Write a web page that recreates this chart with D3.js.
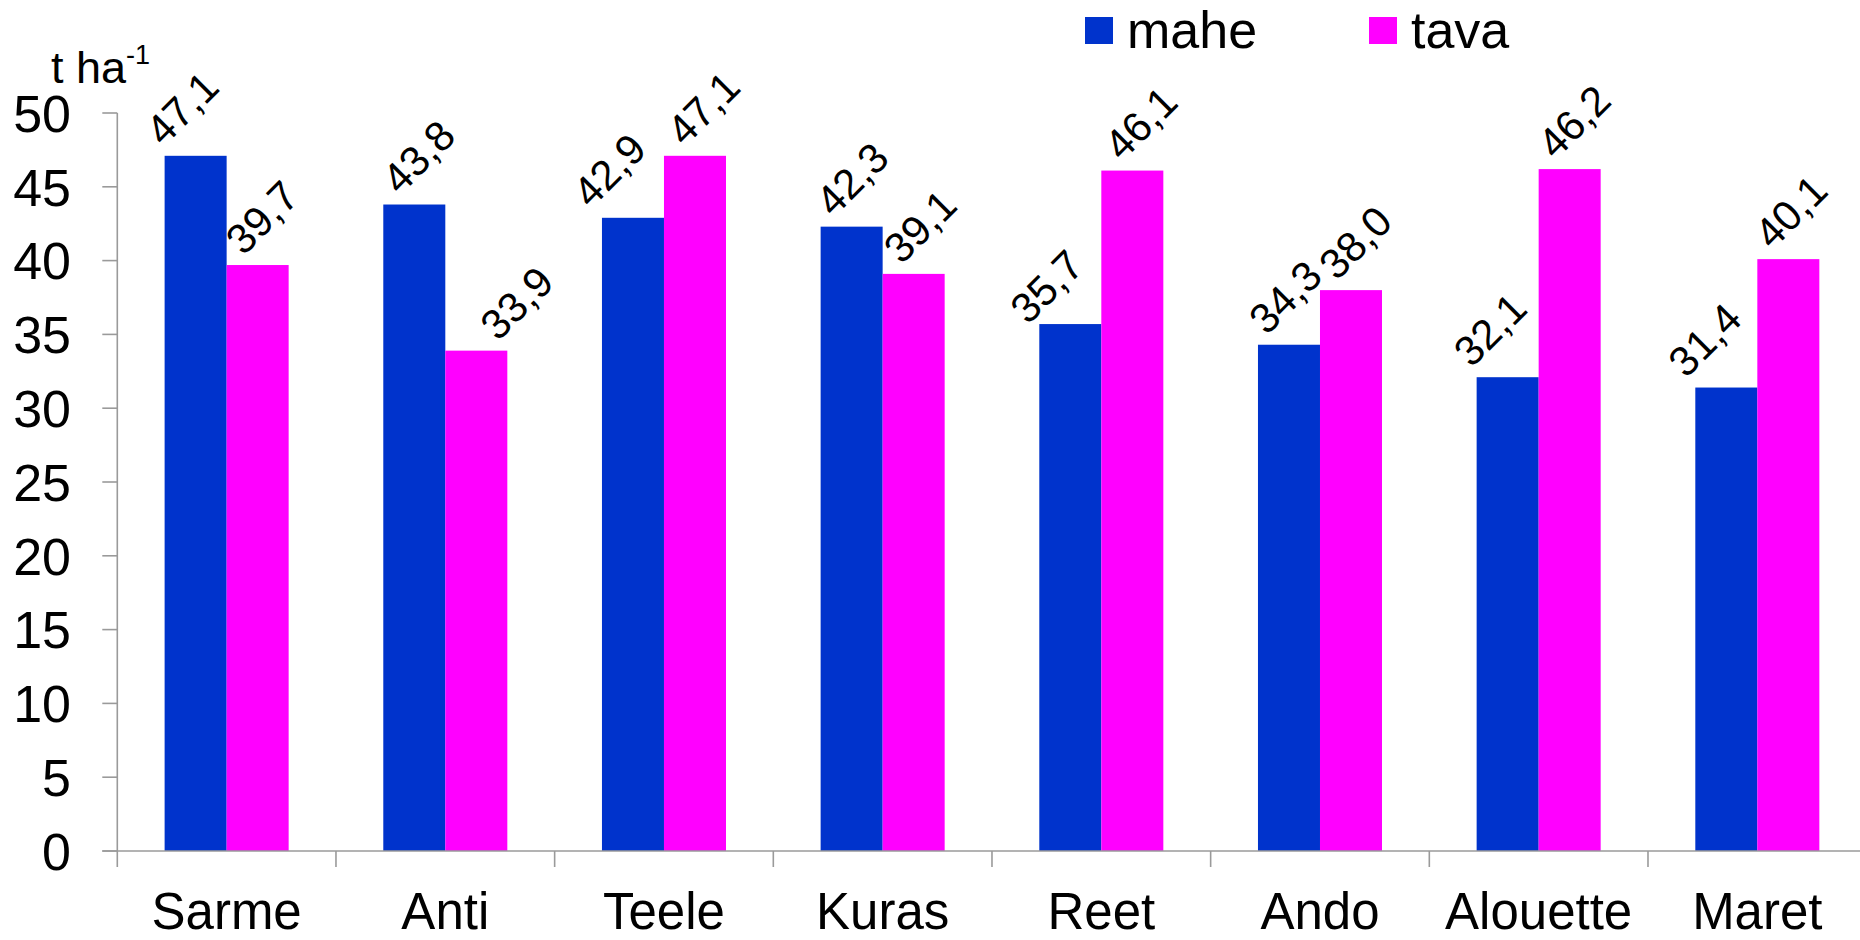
<!DOCTYPE html>
<html>
<head>
<meta charset="utf-8">
<script src="https://cdn.jsdelivr.net/npm/d3@7"></script>
<style>
  html, body { margin: 0; padding: 0; background: #fff; }
  svg { display: block; }
  text { font-family: "Liberation Sans", Arial, sans-serif; fill: #000; }
</style>
</head>
<body>
<svg id="chart" width="1860" height="940"></svg>
<script>
// ---- data ----
const categories = ["Sarme", "Anti", "Teele", "Kuras", "Reet", "Ando", "Alouette", "Maret"];
const seriesNames = ["mahe", "tava"];
const maheValues = [47.1, 43.8, 42.9, 42.3, 35.7, 34.3, 32.1, 31.4];
const tavaValues = [39.7, 33.9, 47.1, 39.1, 46.1, 38.0, 46.2, 40.1];
const yTicks = [0, 5, 10, 15, 20, 25, 30, 35, 40, 45, 50];
const seriesColors = ["#0033CC", "#FF00FF"];
// manual label nudges, as in the original chart
const maheLabelShift = [-14, 4, -24, 0, -24, -4, -18, -22];
const tavaLabelShift = [4, 40, 8, 6, 8, 4, 4, 2];
const maheLabelDrop = [0, 0, 0, 0, 10, 0, 0, 0];
const tavaLabelDrop = [0, 0, 0, 0, 0, 0, 0, 0];

const seriesValues = [maheValues, tavaValues];
const labelShifts = [maheLabelShift, tavaLabelShift];
const labelDrops = [maheLabelDrop, tavaLabelDrop];

const svg = d3.select("#chart");
const left = 117.3, step = 218.67;
const x0 = d3.scaleBand().domain(categories).range([left, left + step * categories.length]).paddingInner(0).paddingOuter(0);
const x1 = d3.scaleBand().domain(seriesNames).range([0, x0.bandwidth()]).paddingInner(0).paddingOuter(0.763);
const y = d3.scaleLinear().domain([0, 50]).range([851, 113]);

const axisColor = "#9a9a9a";
const fmt = v => v.toFixed(1).replace(".", ",");

// bars
seriesNames.forEach((s, si) => {
  svg.append("g").selectAll("rect")
    .data(categories)
    .join("rect")
    .attr("x", c => x0(c) + x1(s))
    .attr("y", (c, i) => y(seriesValues[si][i]))
    .attr("width", x1.bandwidth())
    .attr("height", (c, i) => y(0) - y(seriesValues[si][i]))
    .attr("fill", seriesColors[si]);
});

// axes
const axis = svg.append("g").attr("stroke", axisColor).attr("stroke-width", 1.6);
axis.append("line").attr("x1", left).attr("x2", left).attr("y1", y(50)).attr("y2", y(0) + 16);
axis.append("line").attr("x1", left - 15).attr("x2", x0.range()[1]).attr("y1", y(0)).attr("y2", y(0));
yTicks.forEach(t => {
  axis.append("line").attr("x1", left - 15).attr("x2", left).attr("y1", y(t)).attr("y2", y(t));
});
categories.slice(1).concat([null]).forEach((c, i) => {
  const xx = c === null ? x0.range()[1] : x0(c);
  axis.append("line").attr("x1", xx).attr("x2", xx).attr("y1", y(0)).attr("y2", y(0) + 16);
});

// y tick labels
svg.append("g").selectAll("text")
  .data(yTicks)
  .join("text")
  .attr("x", 71)
  .attr("y", d => y(d))
  .attr("dy", "0.36em")
  .attr("text-anchor", "end")
  .attr("font-size", 52)
  .text(d => d);

// category labels
svg.append("g").selectAll("text")
  .data(categories)
  .join("text")
  .attr("x", c => x0(c) + x0.bandwidth() / 2)
  .attr("y", 929)
  .attr("text-anchor", "middle")
  .attr("font-size", 51)
  .text(c => c);

// unit label
const unit = svg.append("text").attr("x", 51).attr("y", 83).attr("font-size", 45);
unit.append("tspan").text("t ha");
unit.append("tspan").attr("font-size", 27).attr("dy", -19).text("-1");

// data labels (rotated)
seriesNames.forEach((s, si) => {
  svg.append("g").selectAll("text")
    .data(categories)
    .join("text")
    .attr("transform", (c, i) => {
      const cx = x0(c) + x1(s) + x1.bandwidth() / 2 + labelShifts[si][i];
      const cy = y(seriesValues[si][i]) - 48 + labelDrops[si][i];
      return `translate(${cx},${cy}) rotate(-45)`;
    })
    .attr("text-anchor", "middle")
    .attr("dy", "0.36em")
    .attr("font-size", 42)
    .text((c, i) => fmt(seriesValues[si][i]));
});

// legend
const legendX = [1085, 1369];
seriesNames.forEach((s, si) => {
  svg.append("rect").attr("x", legendX[si]).attr("y", 17).attr("width", 28).attr("height", 27).attr("fill", seriesColors[si]);
  svg.append("text").attr("x", legendX[si] + 42).attr("y", 48).attr("font-size", 52).text(s);
});
</script>
</body>
</html>
